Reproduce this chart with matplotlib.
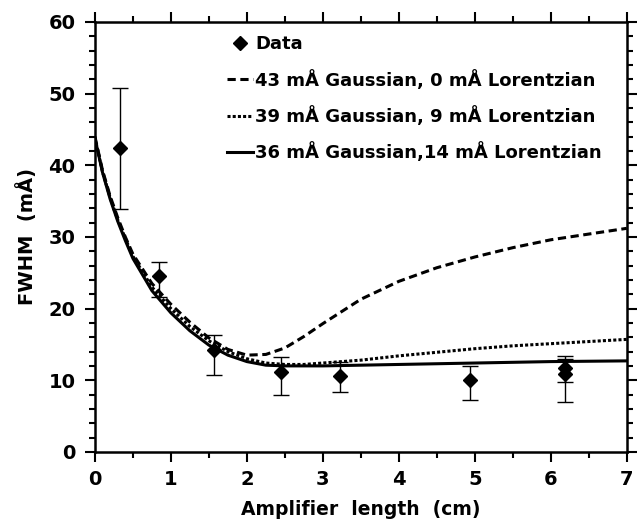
import matplotlib
matplotlib.use("Agg")
import matplotlib.pyplot as plt
from matplotlib.ticker import MultipleLocator

# measured points
data_x = [0.33, 0.84, 1.57, 2.45, 3.22, 4.93, 6.18, 6.18]
data_y = [42.4, 24.5, 14.2, 11.2, 10.65, 10.0, 11.7, 10.9]
err_lo = [33.9, 21.6, 10.7, 7.95, 8.3, 7.25, 9.7, 7.0]
err_hi = [50.8, 26.5, 16.3, 13.3, 12.5, 12.0, 13.4, 13.0]

# model curves
cx = [0, 0.1, 0.2, 0.3, 0.4, 0.5, 0.75, 1, 1.25, 1.5, 1.75, 2, 2.25, 2.5,
      2.75, 3, 3.5, 4, 4.5, 5, 5.5, 6, 6.5, 7]
gauss43 = [44.0, 39.3, 35.7, 32.7, 30.0, 27.6, 23.5, 20.6, 18.1, 15.9, 14.3,
           13.5, 13.6, 14.5, 16.1, 17.9, 21.3, 23.8, 25.7, 27.2, 28.5, 29.6,
           30.4, 31.2]
gauss39 = [43.8, 39.1, 35.5, 32.4, 29.8, 27.3, 23.0, 20.0, 17.5, 15.5, 14.0,
           13.0, 12.4, 12.2, 12.2, 12.4, 12.8, 13.4, 13.9, 14.4, 14.8, 15.1,
           15.4, 15.7]
gauss36 = [43.8, 39.0, 35.3, 32.2, 29.5, 27.0, 22.5, 19.4, 16.9, 14.9, 13.5,
           12.6, 12.1, 12.0, 12.0, 12.0, 12.1, 12.2, 12.3, 12.4, 12.5, 12.6,
           12.65, 12.7]

labels = ["Data",
          "43 mÅ Gaussian, 0 mÅ Lorentzian",
          "39 mÅ Gaussian, 9 mÅ Lorentzian",
          "36 mÅ Gaussian,14 mÅ Lorentzian"]

plt.rcParams['font.family'] = ['DejaVu Sans']
plt.rcParams['font.weight'] = 'bold'

fig = plt.figure(figsize=(6.37, 5.23), dpi=100)
ax = fig.add_axes([0.149, 0.136, 0.835, 0.822])

yerr = [[y - lo for y, lo in zip(data_y, err_lo)],
        [hi - y for y, hi in zip(data_y, err_hi)]]
ax.errorbar(data_x, data_y, yerr=yerr, fmt='none', ecolor='black',
            elinewidth=1, capsize=6, capthick=1)
pts, = ax.plot(data_x, data_y, 'D', color='black', markersize=7, zorder=5)

l1, = ax.plot(cx, gauss43, color='black', lw=2.2, dashes=(2.7, 1.5))
l2, = ax.plot(cx, gauss39, color='black', lw=2.2, dashes=(1.0, 0.7))
l3, = ax.plot(cx, gauss36, color='black', lw=2.2)

ax.legend([pts, l1, l2, l3], labels, loc='upper left',
          bbox_to_anchor=(0.225, 0.998), frameon=False, fontsize=13,
          handlelength=1.4, handletextpad=0.15, labelspacing=0.9,
          borderaxespad=0.3)

ax.set_xlim(0, 7)
ax.set_ylim(0, 60)
ax.xaxis.set_major_locator(MultipleLocator(1))
ax.xaxis.set_minor_locator(MultipleLocator(0.5))
ax.yaxis.set_major_locator(MultipleLocator(10))
ax.yaxis.set_minor_locator(MultipleLocator(2))
ax.tick_params(which='both', direction='out', top=True, right=True,
               width=1.5, labelsize=14)
ax.tick_params(which='major', length=7)
ax.tick_params(axis='x', which='major', pad=6)
ax.tick_params(axis='y', which='major', pad=7)
ax.tick_params(which='minor', length=4)
ax.tick_params(labeltop=False, labelright=False)
for s in ax.spines.values():
    s.set_linewidth(1.8)

ax.set_xlabel('Amplifier  length  (cm)', fontsize=13.5, fontweight='bold',
              labelpad=8)
ax.set_ylabel('FWHM  (mÅ)', fontsize=14, fontweight='bold', labelpad=8)

fig.savefig('out.png', dpi=100)
